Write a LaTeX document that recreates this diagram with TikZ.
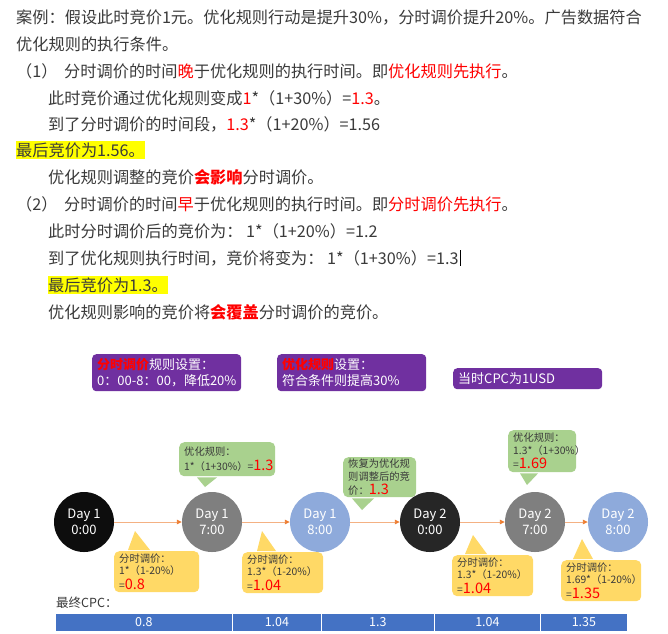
\documentclass[tikz,border=0pt]{standalone}
\usepackage{fontspec}
\setmainfont{Noto Sans CJK SC}
\usetikzlibrary{arrows.meta,calc}
\definecolor{txt}{HTML}{3A3A3A}
\definecolor{hired}{HTML}{FF0000}
\definecolor{hiyel}{HTML}{FFFF00}
\definecolor{purp}{HTML}{7030A0}
\definecolor{calgreen}{HTML}{A9D18E}
\definecolor{calyel}{HTML}{FFD966}
\definecolor{barblue}{HTML}{4472C4}
\definecolor{cblack}{HTML}{0D0D0D}
\definecolor{cdark}{HTML}{262626}
\definecolor{cgray}{HTML}{7F7F7F}
\definecolor{cblue}{HTML}{8EAADB}
\definecolor{arrline}{HTML}{F4B183}
\definecolor{arrhead}{HTML}{ED7D31}
\newcommand\redt[1]{\textcolor{hired}{#1}}
\newcommand\redb[1]{\textcolor{hired}{\bfseries #1}}
\newcommand\bignum[1]{{\fontsize{14.5}{13}\selectfont\color{hired}#1}}
\newcommand\oneline[1]{\mbox{#1}}
\begin{document}
\begin{tikzpicture}[x=1pt,y=-1pt,
  body/.style={anchor=west, inner sep=0pt, text=txt, font=\fontsize{16.2}{18}\selectfont},
  hl/.style={body, fill=hiyel, inner ysep=1.5pt},
  pbox/.style={fill=purp, rounded corners=4pt, anchor=north west, text=white, align=left,
    inner xsep=5pt, inner ysep=1pt, font=\fontsize{13}{16}\selectfont},
  daycirc/.style={circle, minimum size=60pt, inner sep=0pt, text=white, align=center,
    font=\fontsize{13}{16}\selectfont},
  arr/.style={draw=arrline, line width=0.9pt, -{Triangle[length=5pt,width=4.5pt,color=arrhead]}},
  gcall/.style={fill=calgreen, rounded corners=5pt, anchor=north west, inner xsep=5pt,
    inner ysep=1pt, align=left, text=txt, font=\fontsize{10.3}{12.5}\selectfont},
  ycall/.style={gcall, fill=calyel},
  cell/.style={fill=barblue, draw=white, line width=0.8pt, anchor=north west, inner sep=0pt,
    minimum height=18pt, text=white, font=\fontsize{12.5}{12}\selectfont}
]
\useasboundingbox (0,0) rectangle (668,633);
\fill[white] (0,0) rectangle (668,633);

% ---- top text ----
\node[body] (l1) at (16,18) {案例：假设此时竞价1元。优化规则行动是提升30\%，分时调价提升20\%。广告数据符合};
\node[body] (l2) at (16,44) {优化规则的执行条件。};
\node[body] (l3a) at (16,71) {（1）};
\node[body] (l3) at (64,71) {分时调价的时间\redt{晚}于优化规则的执行时间。即\redt{优化规则先执行}。};
\node[body] (l4) at (48,98) {此时竞价通过优化规则变成\redt{1}*（1+30\%）=\redt{1.3}。};
\node[body] (l5) at (48,124) {到了分时调价的时间段，\redt{1.3}*（1+20\%）=1.56};
\node[hl] (l6) at (16,150) {最后竞价为1.56。};
\node[body] (l7) at (48,177) {优化规则调整的竞价\redb{会影响}分时调价。};
\node[body] (l8a) at (16,204) {（2）};
\node[body] (l8) at (64,204) {分时调价的时间\redt{早}于优化规则的执行时间。即\redt{分时调价先执行}。};
\node[body] (l9) at (48,231) {此时分时调价后的竞价为： 1*（1+20\%）=1.2};
\node[body] (l10) at (48,258) {到了优化规则执行时间，竞价将变为： 1*（1+30\%）=1.3};
\draw[black, line width=0.8pt] ([xshift=1.5pt]l10.north east) -- ([xshift=1.5pt]l10.south east);
\node[hl] (l11) at (48,285) {最后竞价为1.3。};
\node[body] (l12) at (48,312) {优化规则影响的竞价将\redb{会覆盖}分时调价的竞价。};

% ---- purple boxes ----
\node[pbox, text width=139pt, minimum height=37pt] (p1) at (92,354)
  {\oneline{\redb{分时调价}规则设置：}\\\oneline{0：00-8：00，降低20\%}};
\node[pbox, text width=139pt, minimum height=37pt] (p2) at (277,354)
  {\oneline{\redb{优化规则}设置：}\\\oneline{符合条件则提高30\%}};
\node[pbox, text width=139pt, minimum height=21pt] (p3) at (453,368) {\oneline{当时CPC为1USD}};

% ---- circles ----
\node[daycirc, fill=cblack] (c1) at (84,522) {Day 1\\0:00};
\node[daycirc, fill=cgray]  (c2) at (212,522) {Day 1\\7:00};
\node[daycirc, fill=cblue]  (c3) at (320,522) {Day 1\\8:00};
\node[daycirc, fill=cdark]  (c4) at (430,522) {Day 2\\0:00};
\node[daycirc, fill=cgray]  (c5) at (535,522) {Day 2\\7:00};
\node[daycirc, fill=cblue]  (c6) at (618,522) {Day 2\\8:00};
\draw[arr] (c1) -- (c2);
\draw[arr] (c2) -- (c3);
\draw[arr] (c3) -- (c4);
\draw[arr] (c4) -- (c5);
\draw[arr] (c5) -- (c6);

% ---- callouts ----
\node[gcall, text width=86pt, minimum height=34pt] (g1) at (179,442)
  {\oneline{优化规则：}\\[2pt]\oneline{1*（1+30\%）=\bignum{1.3}}};
\coordinate (g1tip) at (205,487);
\fill[calgreen] ($(g1.south west)+(18,1)$) -- (g1tip) -- ($(g1.south west)+(38,1)$) -- cycle;

\node[gcall, text width=63pt, minimum height=40pt] (g2) at (343,457)
  {\oneline{恢复为优化规}\\\oneline{则调整后的竞}\\[2pt]\oneline{价：\bignum{1.3}}};
\coordinate (g2tip) at (362,510);
\fill[calgreen] ($(g2.south west)+(9,1)$) -- (g2tip) -- ($(g2.south west)+(31,1)$) -- cycle;

\node[gcall, text width=58pt, minimum height=42pt] (g3) at (508,430)
  {\oneline{优化规则：}\\\oneline{1.3*（1+30\%）}\\[2pt]\oneline{=\bignum{1.69}}};
\coordinate (g3tip) at (527,485);
\fill[calgreen] ($(g3.south west)+(12,1)$) -- (g3tip) -- ($(g3.south west)+(30,1)$) -- cycle;

\node[ycall, text width=75pt, minimum height=41pt] (y1) at (114,551)
  {\oneline{分时调价：}\\\oneline{1*（1-20\%）}\\[2pt]\oneline{=\bignum{0.8}}};
\coordinate (y1tip) at (135,531);
\fill[calyel] ($(y1.north west)+(14,-1)$) -- (y1tip) -- ($(y1.north west)+(36,-1)$) -- cycle;

\node[ycall, text width=71pt, minimum height=41pt] (y2) at (242,552)
  {\oneline{分时调价：}\\\oneline{1.3*（1-20\%）}\\[2pt]\oneline{=\bignum{1.04}}};
\coordinate (y2tip) at (262,531);
\fill[calyel] ($(y2.north west)+(15,-1)$) -- (y2tip) -- ($(y2.north west)+(34,-1)$) -- cycle;

\node[ycall, text width=71pt, minimum height=41pt] (y3) at (452,555)
  {\oneline{分时调价：}\\\oneline{1.3*（1-20\%）}\\[2pt]\oneline{=\bignum{1.04}}};
\coordinate (y3tip) at (473,535);
\fill[calyel] ($(y3.north west)+(13,-1)$) -- (y3tip) -- ($(y3.north west)+(35,-1)$) -- cycle;

\node[ycall, text width=70pt, minimum height=41pt] (y4) at (561,560)
  {\oneline{分时调价：}\\\oneline{1.69*（1-20\%）}\\[2pt]\oneline{=\bignum{1.35}}};
\coordinate (y4tip) at (582,539);
\fill[calyel] ($(y4.north west)+(12,-1)$) -- (y4tip) -- ($(y4.north west)+(32,-1)$) -- cycle;

% ---- bottom bar ----
\node[anchor=west, inner sep=0pt, text=txt, font=\fontsize{12.5}{12}\selectfont] (fin) at (56,603) {最终CPC：};
\node[cell, minimum width=177pt] (b1) at (55,613) {0.8};
\node[cell, minimum width=89pt]  (b2) at (232,613) {1.04};
\node[cell, minimum width=113pt] (b3) at (321,613) {1.3};
\node[cell, minimum width=106pt] (b4) at (434,613) {1.04};
\node[cell, minimum width=87pt]  (b5) at (540,613) {1.35};
\end{tikzpicture}
\end{document}
